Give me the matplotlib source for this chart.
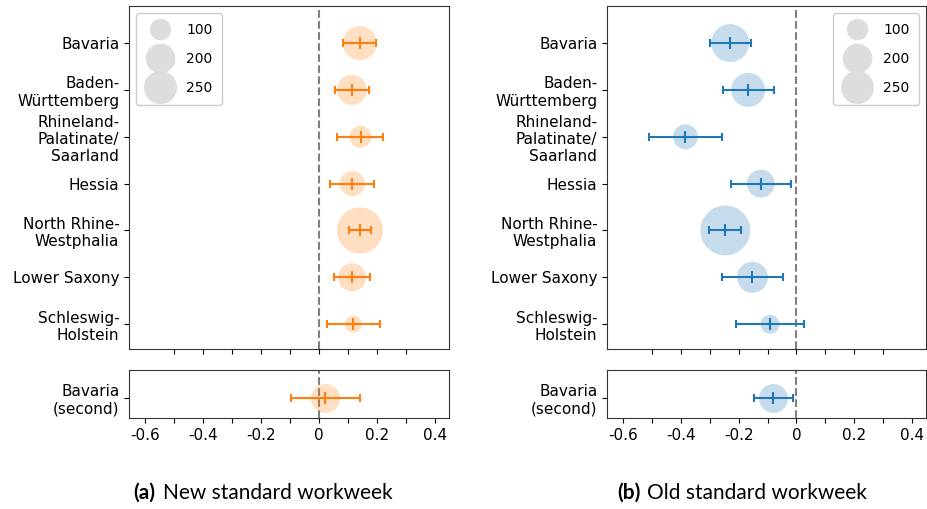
import matplotlib
matplotlib.use("Agg")
import matplotlib.pyplot as plt
import numpy as np
from matplotlib.lines import Line2D
from matplotlib.ticker import FixedLocator, FuncFormatter

plt.rcParams["font.family"] = ["DejaVu Sans"]
plt.rcParams["axes.unicode_minus"] = False

STATES = [
    "Bavaria",
    "Baden-\nWürttemberg",
    "Rhineland-\nPalatinate/\nSaarland",
    "Hessia",
    "North Rhine-\nWestphalia",
    "Lower Saxony",
    "Schleswig-\nHolstein",
]
EXTRA = ["Bavaria\n(second)"]

# (a) new standard workweek
NEW_EST = [0.140, 0.113, 0.143, 0.115, 0.141, 0.114, 0.118]
NEW_LO = [0.083, 0.054, 0.063, 0.038, 0.102, 0.051, 0.028]
NEW_HI = [0.197, 0.171, 0.221, 0.191, 0.180, 0.177, 0.209]
NEW_N = [289, 225, 121, 156, 529, 196, 72]
NEW_EXTRA_EST = [0.022]
NEW_EXTRA_LO = [-0.097]
NEW_EXTRA_HI = [0.141]
NEW_EXTRA_N = [210]

# (b) old standard workweek
OLD_EST = [-0.229, -0.167, -0.384, -0.123, -0.246, -0.152, -0.091]
OLD_LO = [-0.300, -0.255, -0.510, -0.226, -0.301, -0.258, -0.208]
OLD_HI = [-0.156, -0.079, -0.258, -0.020, -0.191, -0.047, 0.025]
OLD_N = [361, 289, 156, 196, 625, 240, 90]
OLD_EXTRA_EST = [-0.080]
OLD_EXTRA_LO = [-0.148]
OLD_EXTRA_HI = [-0.013]
OLD_EXTRA_N = [210]

LEGEND_N = [100, 200, 250]
X_TICKS = [-0.6, -0.4, -0.2, 0, 0.2, 0.4]

FIG_W, FIG_H = 927, 509


def px_axes(fig, left, top, right, bottom):
    return fig.add_axes([left / FIG_W, 1 - bottom / FIG_H,
                         (right - left) / FIG_W, (bottom - top) / FIG_H])


def draw_rows(ax, est, lo, hi, n, color):
    y = np.arange(len(est))
    est = np.array(est)
    xerr = [est - np.array(lo), np.array(hi) - est]
    ax.scatter(est, y, s=2.07 * np.array(n), color=color, alpha=0.25,
               linewidths=0, zorder=2)
    ax.errorbar(est, y, xerr=xerr, fmt="|", color=color, ecolor=color,
                elinewidth=1.5, capsize=3, capthick=1.5, markersize=8,
                markeredgewidth=1.5, zorder=3)
    ax.axvline(0, color="#808080", linestyle="--", linewidth=1.5, zorder=1)


def style_axes(ax):
    ax.set_xlim(-0.655, 0.448)
    for s in ax.spines.values():
        s.set_color("#333333")
    ax.tick_params(labelsize=11, length=3.5)


def panel(fig, left, right, est, lo, hi, n, eest, elo, ehi, en, color,
          legend_loc):
    ax_top = px_axes(fig, left, 6, right, 349)
    ax_bot = px_axes(fig, left, 370, right, 418)

    draw_rows(ax_top, est, lo, hi, n, color)
    style_axes(ax_top)
    ax_top.set_yticks(np.arange(len(STATES)))
    ax_top.set_yticklabels(STATES)
    ax_top.set_ylim(6.53, -0.79)
    ax_top.xaxis.set_major_locator(FixedLocator(np.arange(-0.5, 0.35, 0.1)))
    ax_top.tick_params(axis="x", labelbottom=False)

    handles = [Line2D([], [], marker="o", linestyle="none", color="#dddddd",
                      markersize=np.sqrt(2.07 * v)) for v in LEGEND_N]
    ax_top.legend(handles, [str(v) for v in LEGEND_N], loc=legend_loc,
                  fontsize=10, labelspacing=1.1, borderpad=0.7,
                  handletextpad=0.9, framealpha=1)

    draw_rows(ax_bot, eest, elo, ehi, en, color)
    style_axes(ax_bot)
    ax_bot.set_yticks([0])
    ax_bot.set_yticklabels(EXTRA)
    ax_bot.set_ylim(0.5, -0.7)
    ax_bot.xaxis.set_major_locator(FixedLocator(np.arange(-0.6, 0.45, 0.1)))
    ax_bot.xaxis.set_major_formatter(FuncFormatter(
        lambda v, p: (f"{v:g}" if abs(v) > 1e-9 else "0")
        if any(abs(v - t) < 1e-6 for t in X_TICKS) else ""))
    return ax_top, ax_bot


fig = plt.figure(figsize=(FIG_W / 100, FIG_H / 100), dpi=100)

panel(fig, 129, 449, NEW_EST, NEW_LO, NEW_HI, NEW_N,
      NEW_EXTRA_EST, NEW_EXTRA_LO, NEW_EXTRA_HI, NEW_EXTRA_N,
      "#ff7f0e", "upper left")
panel(fig, 607, 926, OLD_EST, OLD_LO, OLD_HI, OLD_N,
      OLD_EXTRA_EST, OLD_EXTRA_LO, OLD_EXTRA_HI, OLD_EXTRA_N,
      "#1f77b4", "upper right")

cap_y = 1 - 493 / FIG_H
cap_font = ["Lato", "DejaVu Sans"]
fig.text(155 / FIG_W, cap_y, "(a)", ha="right", va="center", fontsize=15,
         fontweight="bold", family=cap_font)
fig.text(163 / FIG_W, cap_y, "New standard workweek", ha="left",
         va="center", fontsize=15, family=cap_font)
fig.text(641 / FIG_W, cap_y, "(b)", ha="right", va="center", fontsize=15,
         fontweight="bold", family=cap_font)
fig.text(647 / FIG_W, cap_y, "Old standard workweek", ha="left",
         va="center", fontsize=15, family=cap_font)

fig.savefig("out.png", dpi=100)
plt.close(fig)
